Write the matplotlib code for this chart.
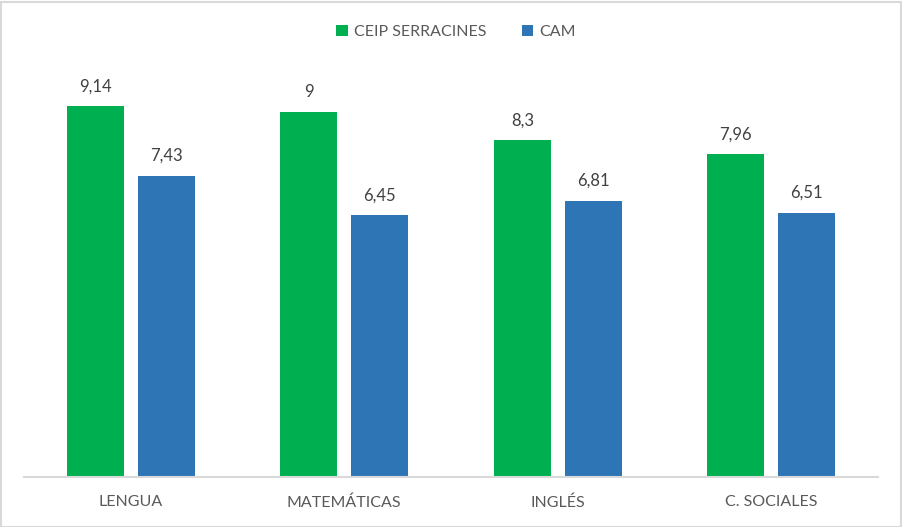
import matplotlib
matplotlib.use('Agg')
import matplotlib.pyplot as plt
from matplotlib.patches import Rectangle
import numpy as np

plt.rcParams['font.family'] = ['Lato', 'DejaVu Sans']

categorias = ['LENGUA', 'MATEMÁTICAS', 'INGLÉS', 'C. SOCIALES']
serracines = [9.14, 9.00, 8.30, 7.96]
cam = [7.43, 6.45, 6.81, 6.51]
etiquetas_serr = ['9,14', '9', '8,3', '7,96']
etiquetas_cam = ['7,43', '6,45', '6,81', '6,51']

verde = '#00B050'
azul = '#2E75B6'
gris_txt = '#595959'

fig = plt.figure(figsize=(9.02, 5.27), dpi=100)
ax = fig.add_axes([24/902, 1-477/527, 854/902, (477-70)/527])

x = np.arange(len(categorias))
w = 0.267
off = 0.166
b1 = ax.bar(x - off, serracines, w, color=verde, label='CEIP SERRACINES')
b2 = ax.bar(x + off, cam, w, color=azul, label='CAM')

for bars, labs in ((b1, etiquetas_serr), (b2, etiquetas_cam)):
    for r, t in zip(bars, labs):
        ax.annotate(t, (r.get_x() + r.get_width()/2, r.get_height()),
                    xytext=(0, 8.5), textcoords='offset points',
                    ha='center', va='bottom', fontsize=12, color='#404040')

ax.set_xlim(-0.5, 3.5)
ax.set_ylim(0, 10.03)
ax.set_yticks([])
ax.set_xticks(x)
ax.set_xticklabels(categorias, fontsize=11.5, color=gris_txt)
ax.tick_params(axis='x', length=0, pad=13)
for s in ('top', 'right', 'left'):
    ax.spines[s].set_visible(False)
ax.spines['bottom'].set_color('#D9D9D9')
ax.spines['bottom'].set_linewidth(1.5)

leg = fig.legend(loc='center', bbox_to_anchor=(456/902, 1-32/527), ncol=2,
                 frameon=False, fontsize=11.5, handlelength=0.7, handleheight=0.7,
                 handletextpad=0.4, columnspacing=2.2)
for t in leg.get_texts():
    t.set_color(gris_txt)

fig.patches.append(Rectangle((0.5/902, 0.5/527), 1-2/902, 1-2/527,
                             transform=fig.transFigure, fill=False,
                             edgecolor='#D9D9D9', linewidth=1.5))

fig.savefig('out.png', dpi=100)
